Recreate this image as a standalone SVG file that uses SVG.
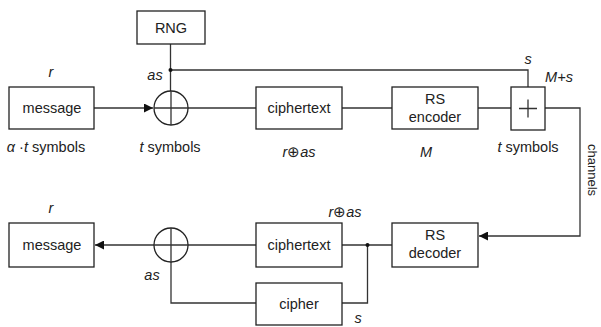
<svg xmlns="http://www.w3.org/2000/svg" width="601" height="327" viewBox="0 0 601 327">
<defs>
<style>
.box{fill:#fff;stroke:#222;stroke-width:1.3}
.ln{fill:none;stroke:#333;stroke-width:1.3}
.t{font-family:"Liberation Sans",Arial,sans-serif;font-size:14.5px;fill:#222;text-anchor:middle}
.i{font-style:italic}
</style>
<marker id="arr" viewBox="0 0 10 10" refX="10" refY="5" markerWidth="9" markerHeight="9" markerUnits="userSpaceOnUse" orient="auto">
<path d="M0,0 L10,5 L0,10 z" fill="#111"/>
</marker>
</defs>
<rect width="601" height="327" fill="#fff"/>
<g id="connectors">
<path class="ln" d="M170.5,44 V91"/>
<path class="ln" d="M170.5,70 H528 V87"/>
<path class="ln" d="M94,108 H153" marker-end="url(#arr)"/>
<path class="ln" d="M188,108 H256"/>
<path class="ln" d="M342,108 H392"/>
<path class="ln" d="M478,108 H511"/>
<path class="ln" d="M545,108 H580 V236 H479" marker-end="url(#arr)"/>
<path class="ln" d="M392,245 H342"/>
<path class="ln" d="M367.5,245 V303 H342"/>
<path class="ln" d="M154,245 H95" marker-end="url(#arr)"/>
<path class="ln" d="M188,245 H256"/>
<path class="ln" d="M171,262 V303 H256"/>
<circle cx="170.5" cy="70" r="2" fill="#111"/>
<circle cx="367.5" cy="245" r="2" fill="#111"/>
</g>
<g id="rng"><rect class="box" x="137" y="11" width="68" height="33"/><text class="t" x="171" y="33">RNG</text></g>
<g id="message1"><rect class="box" x="9" y="87" width="85" height="42"/><text class="t" x="52" y="113">message</text></g>
<g id="xor1"><circle cx="171" cy="108" r="17" fill="#fff" stroke="#222" stroke-width="1.3"/><path class="ln" d="M154,108 H188 M171,91 V125"/></g>
<g id="ciphertext1"><rect class="box" x="256" y="87" width="86" height="42"/><text class="t" x="299" y="113">ciphertext</text></g>
<g id="rsencoder"><rect class="box" x="392" y="87" width="86" height="42"/><text class="t" x="435" y="104">RS</text><text class="t" x="435" y="122">encoder</text></g>
<g id="adder"><rect class="box" x="511" y="87" width="34" height="43"/><path class="ln" d="M519,108.5 H537 M528,99.5 V117.5"/></g>
<g id="rsdecoder"><rect class="box" x="392" y="223" width="86" height="44"/><text class="t" x="435" y="240">RS</text><text class="t" x="435" y="258">decoder</text></g>
<g id="ciphertext2"><rect class="box" x="256" y="223" width="86" height="44"/><text class="t" x="299" y="250">ciphertext</text></g>
<g id="cipher"><rect class="box" x="256" y="283" width="86" height="42"/><text class="t" x="299" y="309">cipher</text></g>
<g id="xor2"><circle cx="171" cy="245" r="17" fill="#fff" stroke="#222" stroke-width="1.3"/><path class="ln" d="M154,245 H188 M171,228 V262"/></g>
<g id="message2"><rect class="box" x="9" y="223" width="85" height="44"/><text class="t" x="52" y="250">message</text></g>
<g id="labels">
<text class="t i" x="51" y="77">r</text>
<text class="t i" x="155" y="80">as</text>
<text class="t" x="46" y="152"><tspan class="i">α</tspan> ·<tspan class="i">t</tspan> symbols</text>
<text class="t" x="170" y="152"><tspan class="i">t</tspan> symbols</text>
<text class="t" x="299" y="157"><tspan class="i">r</tspan>⊕<tspan class="i">as</tspan></text>
<text class="t i" x="426" y="157">M</text>
<text class="t" x="528" y="152"><tspan class="i">t</tspan> symbols</text>
<text class="t i" x="528" y="64">s</text>
<text class="t i" x="559" y="82">M+s</text>
<text class="t" x="0" y="0" style="font-size:13px" transform="translate(588,170) rotate(90)">channels</text>
<text class="t i" x="51" y="213">r</text>
<text class="t" x="345" y="217"><tspan class="i">r</tspan>⊕<tspan class="i">as</tspan></text>
<text class="t i" x="152" y="280">as</text>
<text class="t i" x="358" y="323">s</text>
</g>
</svg>
